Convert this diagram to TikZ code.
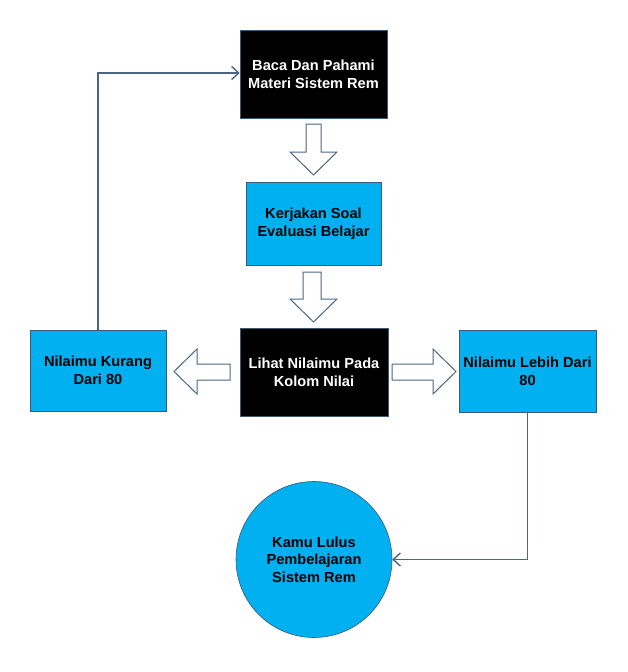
\documentclass[tikz,border=0pt]{standalone}
\usepackage{fontspec}
\setmainfont{Liberation Sans}
\usetikzlibrary{arrows.meta}
\definecolor{cyanbox}{HTML}{00B0F0}
\definecolor{edgecol}{HTML}{4A6682}
\definecolor{boxline}{HTML}{3C5A78}
\begin{document}
\begin{tikzpicture}[x=1pt,y=-1pt,
  box/.style={draw=boxline,line width=0.6pt,align=center,inner sep=0pt,
    font=\bfseries\fontsize{14.6}{17.7}\selectfont},
  darkbox/.style={box,fill=black,text=white},
  lightbox/.style={box,fill=cyanbox,text=black},
  conn/.style={draw=edgecol,line width=1.4pt,-{Straight Barb[length=7pt,width=13pt,line width=1.4pt]}},
  blockarrow/.style={draw=edgecol,fill=white,line width=1pt,line join=miter}]
\useasboundingbox (0,0) rectangle (627,672);
% boxes
\node[darkbox,minimum width=147pt,minimum height=88pt] (b1) at (313.5,74) {Baca Dan Pahami\\Materi Sistem Rem};
\node[lightbox,minimum width=135pt,minimum height=83pt] (b2) at (313.5,223.5) {Kerjakan Soal\\Evaluasi Belajar};
\node[darkbox,minimum width=148pt,minimum height=88pt] (b3) at (314,372) {Lihat Nilaimu Pada\\Kolom Nilai};
\node[lightbox,minimum width=136pt,minimum height=81pt] (bl) at (98,370.5) {Nilaimu Kurang\\Dari 80};
\node[lightbox,minimum width=137pt,minimum height=82pt] (br) at (527.5,371) {Nilaimu Lebih Dari\\80};
\node[circle,draw=boxline,line width=0.6pt,fill=cyanbox,minimum size=156pt,inner sep=0pt,align=center,
  font=\bfseries\fontsize{14.6}{17.7}\selectfont] (c) at (314,559.5) {Kamu Lulus\\Pembelajaran\\Sistem Rem};
% block arrows
\draw[blockarrow] (306,124) -- (321,124) -- (321,152) -- (337,152) -- (313.5,175) -- (290,152) -- (306,152) -- cycle;
\draw[blockarrow] (303,272) -- (321,272) -- (321,299) -- (337,299) -- (313.5,322) -- (290,299) -- (303,299) -- cycle;
\draw[blockarrow] (230,364) -- (230,380) -- (197,380) -- (197,394) -- (174,371.5) -- (197,349) -- (197,364) -- cycle;
\draw[blockarrow] (392,364) -- (392,380) -- (433,380) -- (433,394) -- (456,371.5) -- (433,349) -- (433,364) -- cycle;
% connectors
\draw[conn] (bl.north) |- (b1.west |- 0,73);
\draw[conn] (br.south) |- (c.east);
\end{tikzpicture}
\end{document}
